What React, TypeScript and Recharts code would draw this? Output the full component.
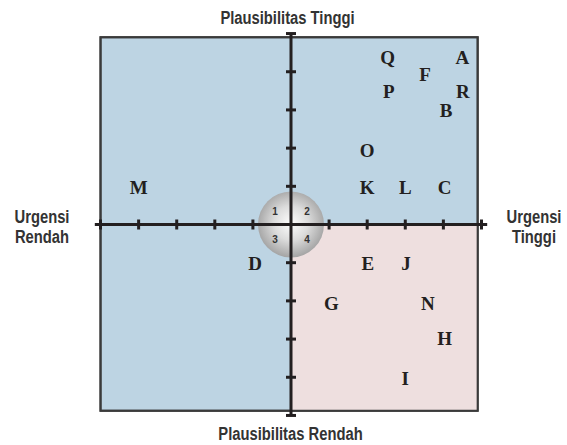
import React from 'react';
import { ScatterChart, Scatter, XAxis, YAxis, ReferenceArea } from 'recharts';

// letter positions on the urgency (x) / plausibility (y) grid
const letters = ['M', 'Q', 'A', 'F', 'P', 'R', 'B', 'O', 'K', 'L', 'C', 'D', 'E', 'J', 'G', 'N', 'H', 'I'];
const letterX = [-4, 2.54, 4.5, 3.52, 2.57, 4.51, 4.07, 2, 2, 3, 4.03, -0.94, 2.02, 3.02, 1.06, 3.59, 4.03, 3];
const letterY = [0.96, 4.36, 4.36, 3.93, 3.49, 3.49, 2.98, 1.95, 0.96, 0.96, 0.96, -1.03, -1.03, -1.03, -2.08, -2.08, -2.99, -4.03];

const quadNums = ['1', '2', '3', '4'];
const quadX = [-0.42, 0.42, -0.42, 0.42];
const quadY = [0.34, 0.34, -0.39, -0.39];

const tickValues = [-5, -4, -3, -2, -1, 1, 2, 3, 4, 5];

const topLabel = 'Plausibilitas Tinggi';
const bottomLabel = 'Plausibilitas Rendah';
const leftLabel = ['Urgensi', 'Rendah'];
const rightLabel = ['Urgensi', 'Tinggi'];

const letterData = letters.map((name, i) => ({ name, x: letterX[i], y: letterY[i] }));
const quadData = quadNums.map((name, i) => ({ name, x: quadX[i], y: quadY[i] }));
const xTickData = tickValues.map((v) => ({ x: v, y: 0 }));
const yTickData = tickValues.map((v) => ({ x: 0, y: v }));
const hAxis = [{ x: -5.15, y: 0 }, { x: 5.15, y: 0 }];
const vAxis = [{ x: 0, y: -5 }, { x: 0, y: 5 }];

const INK = '#231f20';
const BLUE = '#bdd4e3';
const PINK = '#eedfdf';

// the chart fills the whole page, so drop the default body margin
document.body.style.margin = '0';

const empty = () => <g />;

// narrow bold sans, faked by squeezing Liberation Sans horizontally
const labelStyle: React.CSSProperties = {
  position: 'absolute',
  fontFamily: "'Liberation Sans', Arial, sans-serif",
  fontWeight: 'bold',
  fontSize: 18,
  lineHeight: '20px',
  color: '#333',
  textAlign: 'center',
  whiteSpace: 'nowrap',
  transform: 'scaleX(0.82)',
  transformOrigin: 'center',
};

export default function App() {
  return (
    <div style={{ position: 'relative', width: 567, height: 445, overflow: 'hidden' }}>
      <ScatterChart width={567} height={445} margin={{ top: 24, right: 76, bottom: 20, left: 91 }}>
        <XAxis type="number" dataKey="x" domain={[-5.25, 5.25]} hide />
        <YAxis type="number" dataKey="y" domain={[-5.25, 5.25]} hide />
        <ReferenceArea x1={-5} x2={4.9} y1={-4.88} y2={4.9} fill={BLUE} fillOpacity={1} stroke="#3a3a3a" strokeWidth={2} />
        <ReferenceArea x1={0} x2={4.9} y1={-4.88} y2={0} fill={PINK} fillOpacity={1} />
        <ReferenceArea x1={-5} x2={4.9} y1={-4.88} y2={4.9} fill="none" stroke="#3a3a3a" strokeWidth={2} />
        <Scatter
          data={[{ x: 0, y: 0 }]}
          isAnimationActive={false}
          shape={(p: any) => (
            <g>
              <defs>
                <radialGradient id="sphere" cx="50%" cy="48%" r="52%">
                  <stop offset="0%" stopColor="#fdfdfd" />
                  <stop offset="50%" stopColor="#dcdcdc" />
                  <stop offset="100%" stopColor="#a4a4a4" />
                </radialGradient>
              </defs>
              <circle cx={p.cx} cy={p.cy} r={33} fill="url(#sphere)" />
            </g>
          )}
        />
        <Scatter data={hAxis} isAnimationActive={false} line={{ stroke: INK, strokeWidth: 3 }} shape={empty} />
        <Scatter data={vAxis} isAnimationActive={false} line={{ stroke: INK, strokeWidth: 3 }} shape={empty} />
        <Scatter
          data={xTickData}
          isAnimationActive={false}
          shape={(p: any) => <line x1={p.cx} x2={p.cx} y1={p.cy - 5} y2={p.cy + 5} stroke={INK} strokeWidth={3} />}
        />
        <Scatter
          data={yTickData}
          isAnimationActive={false}
          shape={(p: any) => <line x1={p.cx - 5} x2={p.cx + 5} y1={p.cy} y2={p.cy} stroke={INK} strokeWidth={3} />}
        />
        <Scatter
          data={quadData}
          isAnimationActive={false}
          shape={(p: any) => (
            <text x={p.cx} y={p.cy + 3.5} textAnchor="middle" fontFamily="Liberation Sans, Arial, sans-serif" fontWeight="bold" fontSize={10} fill="#333">
              {p.payload.name}
            </text>
          )}
        />
        <Scatter
          data={letterData}
          isAnimationActive={false}
          shape={(p: any) => (
            <text x={p.cx} y={p.cy + 6.5} textAnchor="middle" fontFamily="'Liberation Serif', 'Times New Roman', serif" fontWeight="bold" fontSize={19} fill={INK}>
              {p.payload.name}
            </text>
          )}
        />
      </ScatterChart>
      <div style={{ ...labelStyle, left: 12, width: 551, top: 8 }}>{topLabel}</div>
      <div style={{ ...labelStyle, left: 15, width: 551, top: 424 }}>{bottomLabel}</div>
      <div style={{ ...labelStyle, left: 4, width: 76, top: 207 }}>
        {leftLabel[0]}
        <br />
        {leftLabel[1]}
      </div>
      <div style={{ ...labelStyle, left: 499, width: 70, top: 207 }}>
        {rightLabel[0]}
        <br />
        {rightLabel[1]}
      </div>
    </div>
  );
}
